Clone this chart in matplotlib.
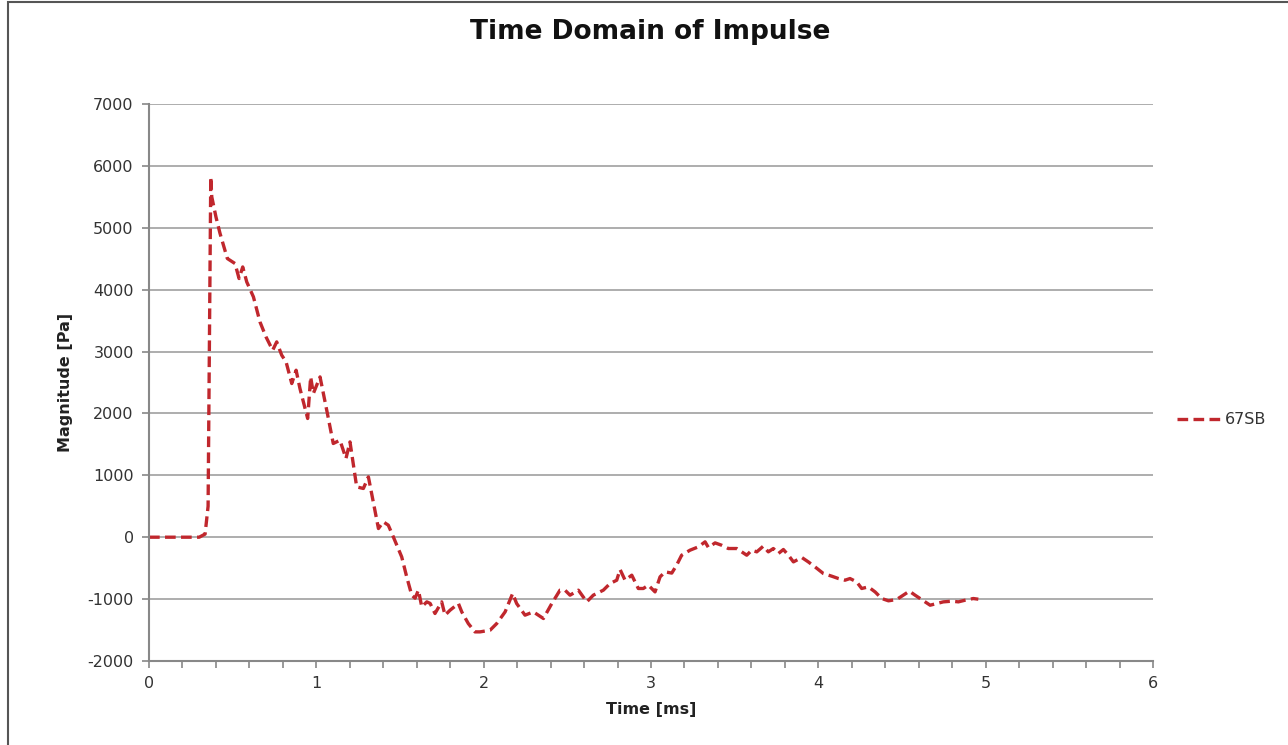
import matplotlib.pyplot as plt
from matplotlib.patches import Rectangle
from matplotlib.ticker import MultipleLocator

plt.rcParams['axes.unicode_minus'] = False

# impulse response of 67SB
time_ms = [0.00, 0.10, 0.20, 0.30, 0.335, 0.353, 0.369, 0.375, 0.400, 0.424, 0.468,
           0.514, 0.538, 0.560, 0.584, 0.624, 0.663, 0.699, 0.739, 0.763, 0.793,
           0.819, 0.853, 0.879, 0.902, 0.948, 0.966, 0.982, 1.022, 1.066, 1.101,
           1.141, 1.177, 1.201, 1.241, 1.281, 1.311, 1.371, 1.400, 1.430, 1.460,
           1.510, 1.540, 1.570, 1.590, 1.610, 1.630, 1.660, 1.680, 1.709, 1.749,
           1.769, 1.799, 1.849, 1.869, 1.908, 1.948, 1.978, 2.038, 2.078, 2.128,
           2.173, 2.197, 2.247, 2.297, 2.357, 2.407, 2.456, 2.486, 2.516, 2.566,
           2.616, 2.655, 2.715, 2.755, 2.795, 2.815, 2.845, 2.885, 2.924, 2.954,
           2.984, 3.024, 3.054, 3.084, 3.124, 3.153, 3.183, 3.233, 3.283, 3.323,
           3.343, 3.383, 3.422, 3.462, 3.512, 3.572, 3.602, 3.632, 3.671, 3.701,
           3.731, 3.761, 3.791, 3.821, 3.851, 3.901, 3.940, 3.980, 4.030, 4.080,
           4.120, 4.159, 4.189, 4.229, 4.259, 4.299, 4.339, 4.379, 4.419, 4.468,
           4.508, 4.544, 4.578, 4.608, 4.638, 4.668, 4.707, 4.747, 4.797, 4.837,
           4.877, 4.926, 4.956]
magnitude_pa = [0, 0, 0, 0, 50, 500, 5820, 5500, 5175, 4912, 4503,
                4422, 4180, 4367, 4125, 3883, 3479, 3237, 3021, 3156, 2941,
                2833, 2483, 2698, 2402, 1918, 2590, 2322, 2590, 1999, 1514,
                1567, 1272, 1540, 813, 787, 975, 140, 248, 194, 5,
                -318, -641, -937, -986, -856, -1125, -1045, -1070, -1233, -1045,
                -1260, -1180, -1072, -1207, -1395, -1530, -1530, -1503, -1395, -1207,
                -910, -1072, -1260, -1207, -1314, -1072, -856, -856, -937, -856,
                -1045, -937, -856, -749, -695, -522, -695, -614, -829, -829,
                -775, -884, -641, -560, -580, -452, -291, -210, -156, -75,
                -167, -92, -130, -183, -183, -291, -210, -237, -145, -237,
                -183, -264, -199, -291, -399, -328, -399, -480, -587, -630,
                -668, -695, -668, -722, -829, -803, -884, -991, -1028, -1007,
                -937, -872, -937, -991, -1045, -1099, -1072, -1045, -1034, -1045,
                -1018, -991, -1002]
series_name = "67SB"

fig = plt.figure(figsize=(12.88, 7.45), dpi=100)
ax = fig.add_axes([0.1157, 0.1128, 0.7795, 0.7476])

ax.plot(time_ms, magnitude_pa, color="#c0272d", lw=2.4, dashes=(3.2, 1.6),
        label=series_name)

ax.set_xlim(0, 6)
ax.set_ylim(-2000, 7000)
ax.xaxis.set_major_locator(MultipleLocator(1))
ax.xaxis.set_minor_locator(MultipleLocator(0.2))
ax.yaxis.set_major_locator(MultipleLocator(1000))
ax.grid(axis="y", color="#a0a0a0", lw=1.2)
ax.set_axisbelow(True)
for s in ["top", "right"]:
    ax.spines[s].set_visible(False)
for s in ["left", "bottom"]:
    ax.spines[s].set_color("#888888")
    ax.spines[s].set_linewidth(1.5)
ax.tick_params(which="both", direction="out", color="#888888", labelcolor="#333333",
               labelsize=11.5)
ax.tick_params(which="major", length=5, width=1.2, pad=6)
ax.tick_params(which="minor", length=5, width=1.2)

ax.set_xlabel("Time [ms]", fontsize=11.5, fontweight="bold", color="#222222", labelpad=8)
ax.set_ylabel("Magnitude [Pa]", fontsize=11.5, fontweight="bold", color="#222222", labelpad=10)
fig.suptitle("Time Domain of Impulse", x=0.505, y=0.975, fontsize=19, fontweight="bold",
             color="#111111")

ax.legend(loc="center left", bbox_to_anchor=(1.01, 0.433), frameon=False,
          fontsize=11.5, handlelength=2.8, handletextpad=0.2, labelcolor="#333333")

# chart frame: left and top edges visible, the rest runs off the picture
fig.patches.append(Rectangle((8 / 1288, -0.01), 1.1, 1.007, transform=fig.transFigure,
                             fill=False, edgecolor="#555555", lw=1.5))

fig.savefig("out.png", dpi=100)
